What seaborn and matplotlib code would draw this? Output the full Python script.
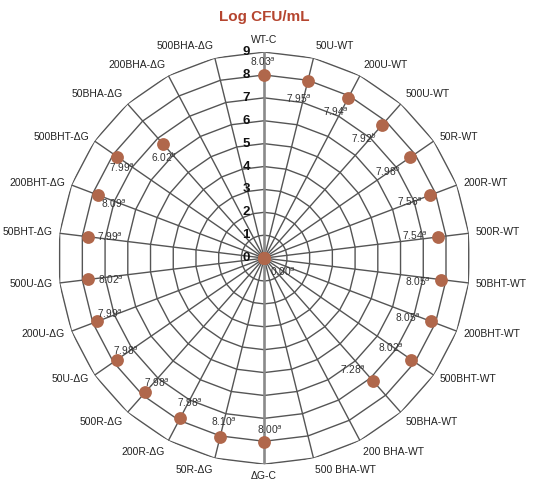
import numpy as np
import pandas as pd
import seaborn as sns
import matplotlib
matplotlib.use("Agg")
from matplotlib import pyplot as plt

# treatments, clockwise from the top
categories = ["WT-C", "50U-WT", "200U-WT", "500U-WT", "50R-WT", "200R-WT",
              "500R-WT", "50BHT-WT", "200BHT-WT", "500BHT-WT", "50BHA-WT",
              "200 BHA-WT", "500 BHA-WT", "ΔG-C", "50R-ΔG", "200R-ΔG",
              "500R-ΔG", "50U-ΔG", "200U-ΔG", "500U-ΔG", "50BHT-ΔG",
              "200BHT-ΔG", "500BHT-ΔG", "50BHA-ΔG", "200BHA-ΔG", "500BHA-ΔG"]

# where the dots sit (log CFU/mL)
log_cfu = [7.98, 7.95, 7.88, 7.76, 7.76, 7.73, 7.67, 7.78, 7.80, 7.80, 7.15,
           0.0, 0.0, 8.03, 8.04, 7.87, 7.84, 7.80, 7.79, 7.75, 7.75, 7.78,
           7.80, 6.68, 0.0, 0.0]

# printed values next to the dots ("" = no label)
value_labels = ["8.03$^a$", "7.95$^a$", "7.94$^a$", "7.92$^b$", "7.98$^b$",
                "7.56$^a$", "7.54$^a$", "8.05$^a$", "8.05$^a$", "8.02$^a$",
                "7.28$^a$", "0.00$^a$", "", "8.00$^a$", "8.10$^a$", "7.98$^a$",
                "7.98$^a$", "7.98$^a$", "7.99$^a$", "8.02$^a$", "7.99$^a$",
                "8.09$^a$", "7.99$^a$", "6.02$^b$", "", ""]

radial_ticks = list(range(0, 10))

# label offsets in pixels (dx right, dy up)
lbl_off = [(-1, 14), (-9, -17), (-12, -13), (-18, -13), (-22, -14), (-20, -6),
           (-24, 1), (-23, -2), (-23, 4), (-20, 12), (-20, 11), (19, -14),
           (0, 0), (6, 12), (4, 15), (9, 15), (12, 10), (9, 9), (12, 8),
           (23, 0), (22, 0), (16, -9), (5, -11), (1, -13), (0, 0), (0, 0)]

sns.set_theme(style="white")
plt.rcParams["font.family"] = ["Liberation Sans", "DejaVu Sans"]

n = len(categories)
theta = np.arange(n) * 2 * np.pi / n
df = pd.DataFrame({"theta": theta, "logcfu": log_cfu, "cat": categories})

fig = plt.figure(figsize=(5.43, 4.82), dpi=100)
ax = fig.add_axes([0.107, 0.037, 0.759, 0.855], projection="polar")
ax.set_theta_zero_location("N")
ax.set_theta_direction(-1)
ax.grid(False)
ax.spines["polar"].set_visible(False)

grid_c = "#555555"
ring = np.append(theta, theta[0])
for r in radial_ticks[1:]:
    ax.plot(ring, [r] * len(ring), color=grid_c, lw=1.0, zorder=1)
for t in theta:
    ax.plot([t, t], [0, 9], color=grid_c, lw=1.0, zorder=1)
ax.plot([0, 0], [0, 9], color="#8a8a8a", lw=1.8, zorder=1.5)
ax.plot([np.pi, np.pi], [0, 9], color="#8a8a8a", lw=1.8, zorder=1.5)

brown = "#b0674b"
sns.scatterplot(data=df, x="theta", y="logcfu", ax=ax, color=brown, s=85,
                edgecolor=brown, linewidth=0, zorder=3, legend=False)

for t, r, lbl, (dx, dy) in zip(theta, log_cfu, value_labels, lbl_off):
    if lbl:
        ax.annotate(lbl, xy=(t, r), xytext=(dx, dy), textcoords="offset pixels",
                    ha="center", va="center", fontsize=7.3, color="#333333",
                    zorder=4)

for t, cat in zip(theta, categories):
    s, c = np.sin(t), np.cos(t)
    ha = "left" if s > 0.05 else ("right" if s < -0.05 else "center")
    va = "bottom" if c > 0.6 else ("top" if c < -0.6 else "center")
    ax.text(t, 9.3, cat, ha=ha, va=va, fontsize=7.5, color="#222222")

for r in radial_ticks:
    ax.annotate(str(r), xy=(0, r), xytext=(-18, 0), textcoords="offset pixels",
                ha="center", va="center", fontsize=9.5, fontweight="bold",
                color="#111111", zorder=4)

ax.set_ylim(0, 9)
ax.set_xticks([])
ax.set_yticks([])
ax.set_xlabel("")
ax.set_ylabel("")

fig.text(0.486, 0.965, "Log CFU/mL", ha="center", va="center", fontsize=11,
         fontweight="bold", color="#b5452f")

fig.savefig("out.png", dpi=100)
